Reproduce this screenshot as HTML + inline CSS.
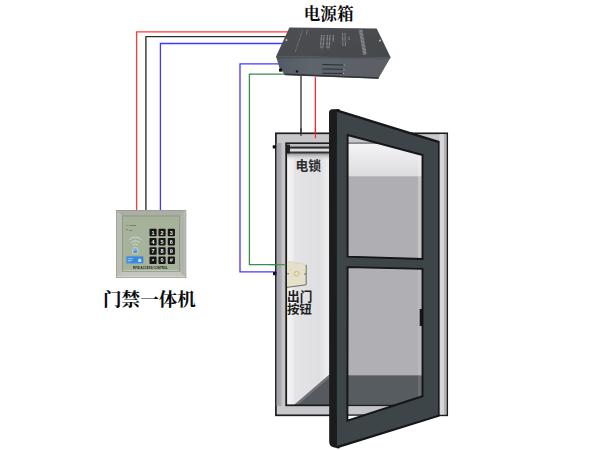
<!DOCTYPE html>
<html>
<head>
<meta charset="utf-8">
<title>Access control wiring diagram</title>
<style>
html,body{margin:0;padding:0;background:#fff;}
body{width:600px;height:450px;overflow:hidden;font-family:"Liberation Sans",sans-serif;}
svg{display:block;}
</style>
</head>
<body>
<svg width="600" height="450" viewBox="0 0 600 450">
<defs>
  <linearGradient id="gFront" x1="0" y1="0" x2="1" y2="0">
    <stop offset="0" stop-color="#525a64"/>
    <stop offset="0.3" stop-color="#5f656d"/>
    <stop offset="1" stop-color="#5b5e63"/>
  </linearGradient>
  <linearGradient id="gFrontV" x1="0" y1="0" x2="0" y2="1">
    <stop offset="0" stop-color="#44474b" stop-opacity="0.8"/>
    <stop offset="0.14" stop-color="#3e4044" stop-opacity="0"/>
    <stop offset="1" stop-color="#000" stop-opacity="0"/>
  </linearGradient>
  <linearGradient id="gTop" x1="0" y1="0" x2="1" y2="1">
    <stop offset="0" stop-color="#4d5054"/>
    <stop offset="1" stop-color="#44474b"/>
  </linearGradient>
  <linearGradient id="gInterior" x1="0" y1="0" x2="1" y2="0">
    <stop offset="0" stop-color="#f6f6f6"/>
    <stop offset="0.04" stop-color="#efeff0"/>
    <stop offset="0.06" stop-color="#e4e4e6"/>
    <stop offset="0.22" stop-color="#dfdfe1"/>
    <stop offset="0.27" stop-color="#ececee"/>
    <stop offset="1" stop-color="#dcdcde"/>
  </linearGradient>
  <linearGradient id="gFrameL" x1="0" y1="0" x2="1" y2="0">
    <stop offset="0" stop-color="#a2a2a6"/>
    <stop offset="0.45" stop-color="#aaaaae"/>
    <stop offset="0.7" stop-color="#cacace"/>
    <stop offset="1" stop-color="#c2c2c6"/>
  </linearGradient>
  <linearGradient id="gUpper" x1="0" y1="0" x2="0" y2="1">
    <stop offset="0" stop-color="#f4f4f6"/>
    <stop offset="1" stop-color="#dcdcdf"/>
  </linearGradient>
  <linearGradient id="gBezel" x1="0" y1="0" x2="1" y2="1">
    <stop offset="0" stop-color="#c4c6bd"/>
    <stop offset="0.5" stop-color="#b2b4aa"/>
    <stop offset="1" stop-color="#a2a49a"/>
  </linearGradient>
  <linearGradient id="gLockShade" x1="0" y1="0" x2="0" y2="1">
    <stop offset="0" stop-color="#8e8e90"/>
    <stop offset="0.35" stop-color="#b8b8ba" stop-opacity="0.8"/>
    <stop offset="1" stop-color="#e4e4e6" stop-opacity="0"/>
  </linearGradient>
  <clipPath id="clipUpper"><polygon points="347.6,135 422.5,155 422.5,258.9 347.6,256.7"/></clipPath>
  <clipPath id="clipLower"><polygon points="347.6,267.1 422.5,268.9 422.5,396.2 347.4,420.6"/></clipPath>
  <filter id="soft" x="-5%" y="-5%" width="110%" height="110%"><feGaussianBlur stdDeviation="0.45"/></filter>
  <filter id="soft2" x="-5%" y="-5%" width="110%" height="110%"><feGaussianBlur stdDeviation="0.6"/></filter>
</defs>

<rect x="0" y="0" width="600" height="450" fill="#ffffff"/>

<!-- ============ WIRES ============ -->
<g fill="none" stroke-width="1.3" stroke-linejoin="miter" filter="url(#soft)">
  <polyline points="290,31.8 136.6,31.8 136.6,210.5" stroke="#ff3838"/>
  <polyline points="287,36.7 145.9,36.7" stroke="#2c2c2c"/>
  <polyline points="145.9,36.1 145.9,210.5" stroke="#4c4c4c" stroke-width="1.6"/>
  <polyline points="283,43.5 160.4,43.5 160.4,210.5" stroke="#3c38ff"/>
  <polyline points="279,63.8 240,63.8 240,271.8 275.5,271.8" stroke="#4238ff"/>
  <polyline points="287,74.2 249.4,74.2 249.4,264.7 286,264.7" stroke="#3a8c52"/>
  <line x1="301" y1="76" x2="301" y2="135.9" stroke="#2a2a2a"/>
  <line x1="315.4" y1="77" x2="315.4" y2="138.3" stroke="#ff2a2a"/>
</g>

<!-- ============ POWER BOX ============ -->
<g id="powerbox" filter="url(#soft2)">
  <polygon points="276,56.3 390.7,57.3 378.2,78.8 285,75.2 279.3,67.5" fill="url(#gFront)"/>
  <polygon points="276,56.3 390.7,57.3 378.2,78.8 285,75.2 279.3,67.5" fill="url(#gFrontV)"/>
  <polygon points="289.4,27.6 376.7,28.5 390.7,57.6 276,56.6" fill="url(#gTop)"/>
  <polyline points="284.6,74.2 378.6,78" fill="none" stroke="#303236" stroke-width="1.5"/>
  <!-- screws -->
  <circle cx="286.4" cy="40.1" r="1.1" fill="#b9b29a"/>
  <circle cx="380" cy="40.6" r="1.1" fill="#b9b29a"/>
  <!-- foot & hole -->
  <rect x="279" y="68.3" width="3" height="3.4" rx="1" fill="#0c0c0c"/>
  <circle cx="297" cy="71.4" r="1.2" fill="#101010"/>
  <!-- vents -->
  <g stroke="#2c2e31" stroke-width="1.05">
    <line x1="322.4" y1="64.6" x2="343" y2="64.9"/>
    <line x1="322.4" y1="69" x2="343" y2="69.3"/>
    <line x1="322.4" y1="73.2" x2="343" y2="73.5"/>
  </g>
  <g fill="#a9adb0">
    <circle cx="344.5" cy="65" r="0.6"/><circle cx="344" cy="69.4" r="0.6"/><circle cx="343.5" cy="73.4" r="0.6"/>
  </g>
  <!-- printed text on top face (illegible in source) -->
  <g stroke="#c0c4c8" fill="none" opacity="0.8">
    <line x1="302.5" y1="30.5" x2="295" y2="52.5" stroke-width="0.6" stroke-dasharray="0.7 0.6"/>
    <line x1="307.2" y1="30.5" x2="306.3" y2="35" stroke-width="1" stroke-dasharray="0.6 0.5"/>
    <line x1="321.6" y1="35.3" x2="320.6" y2="45.5" stroke-width="1.1" stroke-dasharray="0.8 0.5"/>
    <line x1="324" y1="35.3" x2="323.2" y2="45.5" stroke-width="1.1" stroke-dasharray="0.8 0.5"/>
    <ellipse cx="321.8" cy="47" rx="1.6" ry="1" stroke-width="0.5"/>
    <line x1="327.5" y1="35.3" x2="326.8" y2="45.5" stroke-width="1.1" stroke-dasharray="0.8 0.5"/>
    <line x1="329.9" y1="35.3" x2="329.4" y2="45.5" stroke-width="1.1" stroke-dasharray="0.8 0.5"/>
    <ellipse cx="328" cy="47" rx="1.6" ry="1" stroke-width="0.5"/>
    <line x1="333.4" y1="35.3" x2="333.1" y2="42" stroke-width="1.1" stroke-dasharray="0.8 0.5"/>
    <line x1="342.6" y1="33.3" x2="342.9" y2="45.8" stroke-width="1" stroke-dasharray="0.7 0.5"/>
    <line x1="345" y1="33.3" x2="345.4" y2="45.8" stroke-width="1" stroke-dasharray="0.7 0.5"/>
    <line x1="349" y1="36.7" x2="349.3" y2="40.2" stroke-width="1" stroke-dasharray="0.7 0.5"/>
    <line x1="360.6" y1="30" x2="365" y2="55" stroke-width="3.6" stroke-dasharray="0.9 0.5" stroke="#c4c8cc" opacity="0.75"/>
  </g>
</g>
<text x="303.7" y="20.2" font-size="16.6" font-weight="bold" fill="#0a0a0a" font-family="'Liberation Serif', 'Noto Serif CJK SC', serif" textLength="49.9" lengthAdjust="spacingAndGlyphs">电源箱</text>

<!-- ============ KEYPAD ============ -->
<g id="keypad" filter="url(#soft)">
  <rect x="116.1" y="210" width="70" height="68" fill="#b3b6ac"/>
  <polygon points="116.1,210 122.4,216 179.6,216 186.1,210" fill="#abaea4"/>
  <polygon points="116.1,210 122.4,216 122.4,271.2 116.1,278" fill="#babdb3"/>
  <polygon points="186.1,210 179.6,216 179.6,271.2 186.1,278" fill="#b0b3aa"/>
  <polygon points="116.1,278 122.4,271.2 179.6,271.2 186.1,278" fill="#c3c6bd"/>
  <rect x="116.1" y="276.3" width="70" height="1.7" fill="#d6d8d0"/>
  <rect x="184.6" y="210" width="1.5" height="68" fill="#c9cbc3"/>
  <rect x="116.4" y="210.3" width="69.4" height="67.4" fill="none" stroke="#93968d" stroke-width="0.6"/>
  <rect x="122.4" y="216" width="57.2" height="55.2" fill="#a6b299" stroke="#8b9682" stroke-width="0.9"/>
  <rect x="123.2" y="270" width="55.6" height="1" fill="#c5cdb9" opacity="0.8"/>
  <!-- leds -->
  <circle cx="126.9" cy="225.3" r="0.65" fill="#b8533f"/>
  <circle cx="126.9" cy="229.7" r="0.65" fill="#5c7a52"/>
  <text x="128.7" y="226.2" font-size="2.3" font-weight="bold" fill="#3f4a39" font-family="Liberation Sans, sans-serif" textLength="7.6" lengthAdjust="spacingAndGlyphs">POWER</text>
  <text x="128.9" y="230.6" font-size="2.3" font-weight="bold" fill="#3f4a39" font-family="Liberation Sans, sans-serif">OK</text>
  <!-- rfid icon -->
  <g fill="none" stroke="#d4e4ec" stroke-width="0.75" stroke-linecap="round">
    <path d="M129.4,239.6 A8.2,8.2 0 0 1 141.4,239.6"/>
    <path d="M131.5,242.4 A5.6,5.6 0 0 1 139.4,242.4"/>
    <path d="M133.1,244.9 A3.4,3.4 0 0 1 137.8,244.9"/>
  </g>
  <path d="M132.6,253.6 L132.6,250 Q132.6,247.4 135.3,247.4 Q138,247.4 138,250 L138,253.6 Z" fill="#8fb0cf" stroke="#cfe0ec" stroke-width="0.6"/>
  <rect x="133.6" y="250.6" width="3.4" height="2.4" fill="#5f8fc0"/>
  <!-- blue label -->
  <rect x="126.4" y="256.4" width="17" height="7" fill="#3689e0"/>
  <rect x="127.6" y="258.3" width="5.6" height="0.8" fill="#a9cdf4"/>
  <rect x="127.6" y="260" width="4.6" height="0.8" fill="#a9cdf4"/>
  <rect x="127.6" y="261.6" width="3" height="0.6" fill="#8cbcf0"/>
  <path d="M138.2,262 l0,-1.8 a1.5,1.8 0 0 1 3,0 l0,1.8 z" fill="#c8e0fa"/>
  <!-- keys -->
  <g fill="#131313">
    <rect x="149.5" y="228.8" width="7.1" height="7.4" rx="0.8"/><rect x="158.5" y="228.8" width="7.1" height="7.4" rx="0.8"/><rect x="167.8" y="228.8" width="7.1" height="7.4" rx="0.8"/>
    <rect x="149.5" y="238" width="7.1" height="7.4" rx="0.8"/><rect x="158.5" y="238" width="7.1" height="7.4" rx="0.8"/><rect x="167.8" y="238" width="7.1" height="7.4" rx="0.8"/>
    <rect x="149.5" y="247.3" width="7.1" height="7.4" rx="0.8"/><rect x="158.5" y="247.3" width="7.1" height="7.4" rx="0.8"/><rect x="167.8" y="247.3" width="7.1" height="7.4" rx="0.8"/>
    <rect x="149.5" y="256.6" width="7.1" height="7.4" rx="0.8"/><rect x="158.5" y="256.6" width="7.1" height="7.4" rx="0.8"/><rect x="167.8" y="256.6" width="7.1" height="7.4" rx="0.8"/>
  </g>
  <g font-family="Liberation Sans, sans-serif" font-weight="bold" font-size="5.6" fill="#f4f4f4" text-anchor="middle">
    <text x="153" y="234.5">1</text><text x="162" y="234.5">2</text><text x="171.3" y="234.5">3</text>
    <text x="153" y="243.7">4</text><text x="162" y="243.7">5</text><text x="171.3" y="243.7">6</text>
    <text x="153" y="253">7</text><text x="162" y="253">8</text><text x="171.3" y="253">9</text>
    <text x="153" y="263.4">*</text><text x="162" y="262.3">0</text><text x="171.3" y="262.3">#</text>
  </g>
  <text x="133.1" y="269.2" font-size="3.1" font-weight="bold" fill="#20261d" font-family="Liberation Sans, sans-serif" textLength="34.7" lengthAdjust="spacingAndGlyphs">RFID ACCESS CONTROL</text>
</g>
<text x="103" y="305.5" font-size="18.6" font-weight="bold" fill="#0a0a0a" font-family="'Liberation Serif', 'Noto Serif CJK SC', serif" textLength="92.9" lengthAdjust="spacingAndGlyphs">门禁一体机</text>

<!-- ============ DOOR FRAME (wall) ============ -->
<g id="frame" filter="url(#soft)">
  <!-- outer frame -->
  <rect x="275.9" y="133.3" width="171.3" height="282" fill="#c8c8cc" stroke="#1c1c1c" stroke-width="1.7"/>
  <rect x="276.6" y="143" width="9" height="263" fill="url(#gFrameL)"/>
  <rect x="439.5" y="134" width="4.5" height="280.6" fill="#d6d6da"/>
  <rect x="444" y="134" width="2.5" height="280.6" fill="#b2b2b6"/>
  <!-- interior -->
  <rect x="286.2" y="143.3" width="151" height="262" fill="#dedee0"/>
  <rect x="286.2" y="143.3" width="151" height="262" fill="url(#gInterior)"/>
  <!-- floor -->
  <polygon points="293.8,405.3 328.6,375.3 437.2,375.3 437.2,405.3" fill="#565a5e"/>
  <polygon points="293.8,405.3 328.6,375.3 332,375.3 297.5,405.3" fill="#7c7f83" opacity="0.7"/>
  <!-- inner outline -->
  <rect x="286.2" y="143.3" width="151" height="262" fill="none" stroke="#1c1c1c" stroke-width="1.8"/>
  <!-- notch on frame left -->
  <rect x="272.7" y="145.3" width="3.4" height="3.2" rx="0.8" fill="#111"/>
  <!-- electric lock -->
  <rect x="287" y="153.2" width="42.5" height="7.5" fill="url(#gLockShade)"/>
  <rect x="287" y="144.4" width="42.5" height="2.2" fill="#bebec0"/>
  <rect x="287" y="146.5" width="42.5" height="2.2" fill="#2c2c2c"/>
  <rect x="287" y="148.9" width="42.5" height="2.5" fill="#dcdce0"/>
  <rect x="287" y="151.5" width="42.5" height="2" fill="#333"/>
  <rect x="286.9" y="144.6" width="3.1" height="8.8" fill="#242424"/>
  <!-- exit button -->
  <polygon points="287,261.2 306.4,264.6 306.4,284.6 287,287.2" fill="#e6dfcc"/>
  <polyline points="306.2,264.8 306.2,284.8 287,287.4" fill="none" stroke="#6d6a60" stroke-width="1"/>
  <polyline points="287,261.2 306.4,264.6" fill="none" stroke="#cfc8b4" stroke-width="0.6"/>
  <circle cx="296.7" cy="273.7" r="2.4" fill="#eadfc0" stroke="#c9b170" stroke-width="0.8"/>
  <rect x="287.2" y="273.3" width="1.8" height="0.9" fill="#555"/>
  <rect x="304.2" y="273.6" width="1.8" height="0.9" fill="#555"/>
</g>
<!-- wire ends over frame -->
<g fill="none" stroke-width="1.1" filter="url(#soft)">
  <line x1="301" y1="128" x2="301" y2="135.9" stroke="#2a2a2a"/>
  <line x1="315.4" y1="128" x2="315.4" y2="138.3" stroke="#ff2020"/>
  <line x1="270" y1="264.7" x2="285.6" y2="264.7" stroke="#3a8c52"/>
  <rect x="273" y="272" width="3.4" height="3.2" fill="#14103c" stroke="none"/>
</g>
<text x="295.5" y="170.4" font-size="12.8" font-weight="bold" fill="#2c2c2c" font-family="'Liberation Sans', 'Noto Sans CJK SC', sans-serif" textLength="25.5" lengthAdjust="spacingAndGlyphs">电锁</text>
<text x="287" y="300.5" font-size="12.7" font-weight="bold" fill="#1e1e1e" font-family="'Liberation Sans', 'Noto Sans CJK SC', sans-serif" textLength="25.4" lengthAdjust="spacingAndGlyphs">出门</text>
<text x="286.9" y="314.2" font-size="12.4" font-weight="bold" fill="#1e1e1e" font-family="'Liberation Sans', 'Noto Sans CJK SC', sans-serif" textLength="24.9" lengthAdjust="spacingAndGlyphs">按钮</text>

<!-- ============ DOOR LEAF ============ -->
<g id="door" filter="url(#soft)">
  <!-- thickness edge -->
  <path d="M329,113 Q329,109.4 332.4,109.3 L339.5,109 L339.5,448.4 L334.2,447.6 Q329.2,446.6 329.2,442 Z" fill="#1b1d1f"/>
  <!-- face -->
  <polygon points="336.9,109.2 439.6,140.9 439.6,416.5 336.9,448.6" fill="#15171a"/>
  <polygon points="336.9,111.8 438,142.9 438,414.9 336.9,446" fill="#3e4549"/>
  <!-- see-through: upper pane -->
  <g clip-path="url(#clipUpper)">
    <rect x="340" y="130" width="90" height="135" fill="#afafb3"/>
    <rect x="340" y="143.5" width="90" height="32.8" fill="url(#gUpper)"/>
    <rect x="340" y="130" width="90" height="12.6" fill="#c6c6ca"/>
    <rect x="340" y="142.5" width="90" height="1.2" fill="#6a6a6e"/>
    <rect x="418" y="130" width="5" height="135" fill="#ffffff" opacity="0.28"/>
  </g>
  <polygon points="347.6,135 422.5,155 422.5,258.9 347.6,256.7" fill="none" stroke="#121416" stroke-width="1.9"/>
  <!-- see-through: lower pane -->
  <g clip-path="url(#clipLower)">
    <rect x="340" y="260" width="90" height="165" fill="#ffffff"/>
    <rect x="340" y="260" width="90" height="115.2" fill="#b0b0b4"/>
    <rect x="340" y="375.2" width="90" height="30" fill="#565b5f"/>
    <rect x="340" y="405" width="90" height="10.6" fill="#c6c6ca"/>
    <rect x="340" y="404.8" width="90" height="1.3" fill="#1c1c1c"/>
    <rect x="340" y="414.4" width="90" height="1.3" fill="#1c1c1c"/>
    <rect x="418" y="260" width="5" height="165" fill="#ffffff" opacity="0.12"/>
  </g>
  <polygon points="347.6,267.1 422.5,268.9 422.5,396.2 347.4,420.6" fill="none" stroke="#121416" stroke-width="1.9"/>
  <rect x="419.7" y="309" width="2.6" height="17" rx="0.6" fill="#121416"/>
</g>
</svg>
</body>
</html>
